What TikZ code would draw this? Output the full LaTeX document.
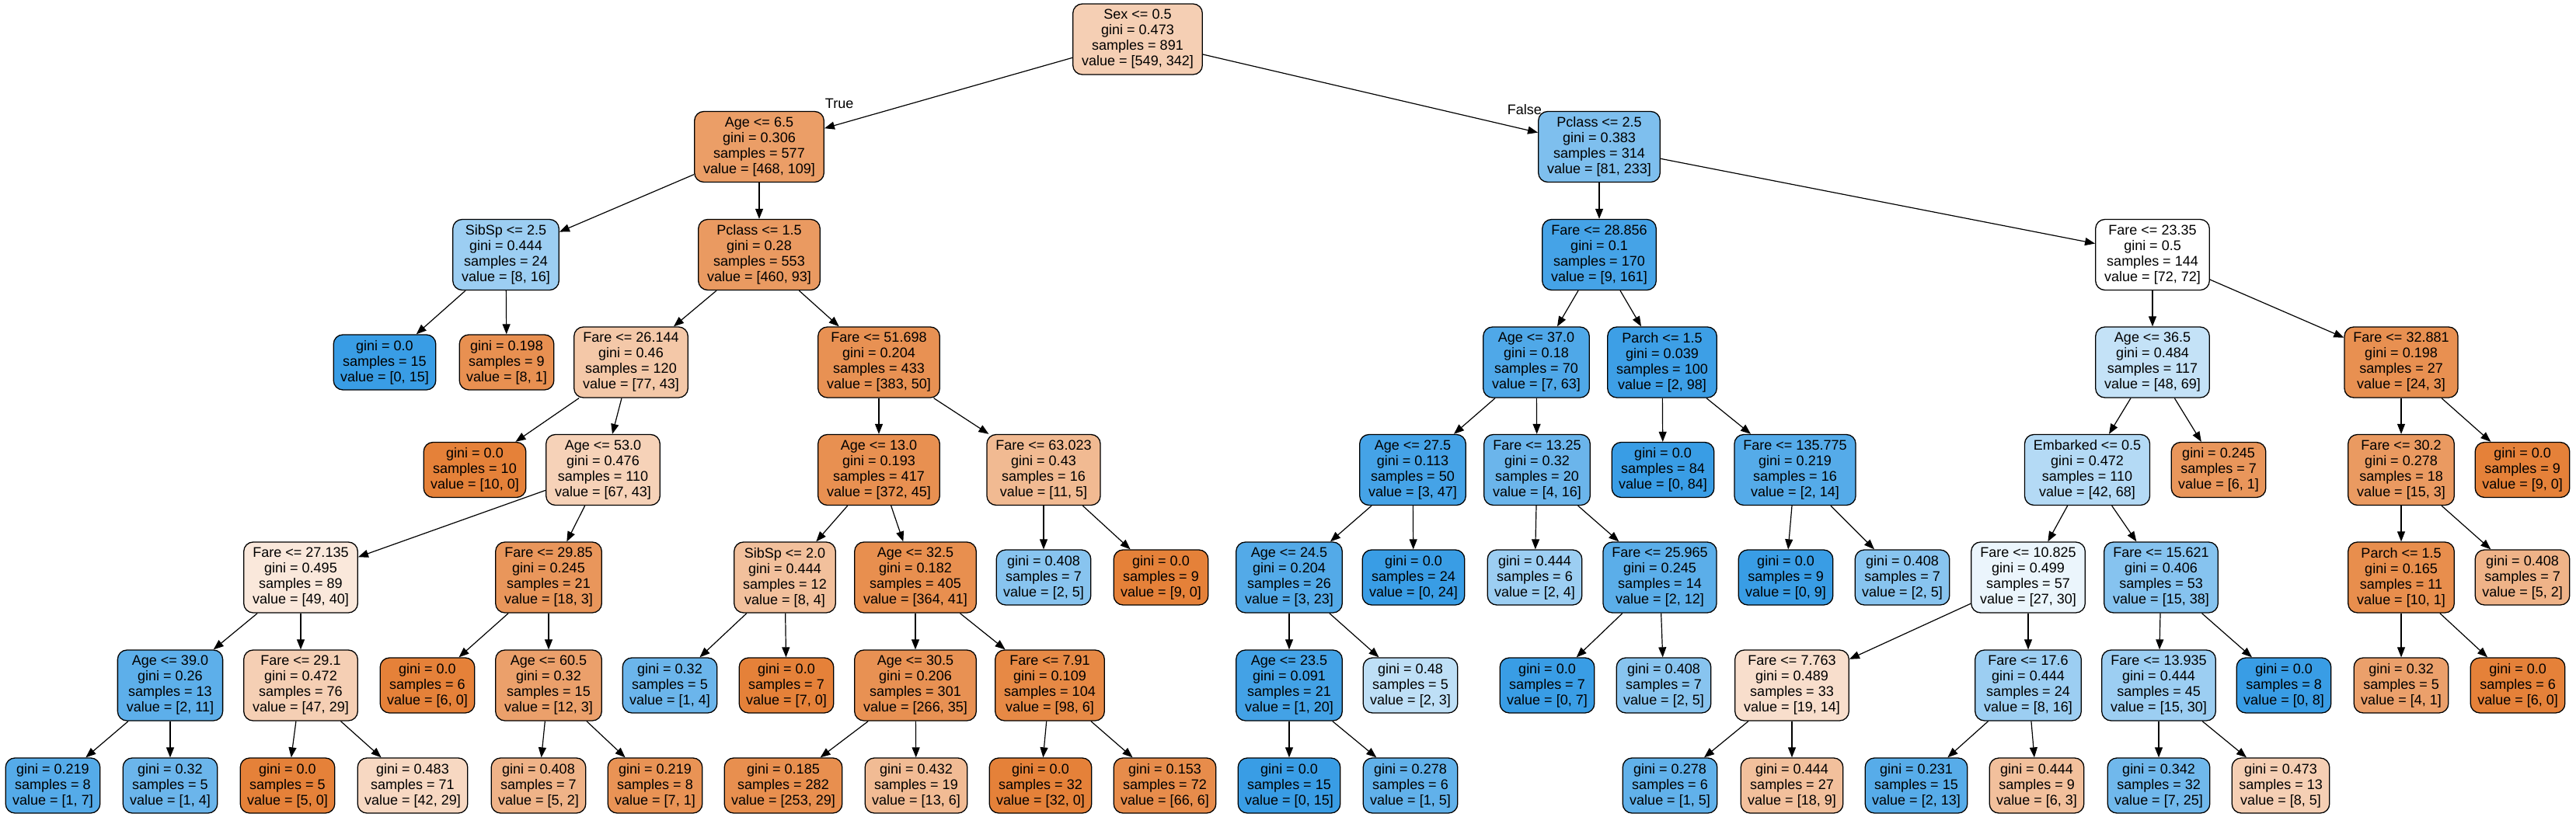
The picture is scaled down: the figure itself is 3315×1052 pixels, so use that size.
\documentclass[tikz,border=0pt]{standalone}
\usepackage{fontspec}
\setmainfont{Liberation Sans}
\usetikzlibrary{arrows.meta}
\definecolor{torange}{HTML}{E58139}
\definecolor{tblue}{HTML}{399DE5}
\tikzset{
  died/.style={fill=torange!#1!white},
  surv/.style={fill=tblue!#1!white}
}
\newcommand{\treesplit}[7]{%
 \node[decision,#3] ({#1}) at ({#2}) {#4\\gini = #5\\samples = #6\\value = [#7]};%
}
\newcommand{\treeleaf}[6]{%
 \node[leafbox,#3] ({#1}) at ({#2}) {gini = #4\\samples = #5\\value = [#6]};%
}
\begin{document}
\begin{tikzpicture}[x=1pt, y=-1pt,
  every node/.style={font=\fontsize{18}{20}\selectfont},
  treebox/.style={draw=black, line width=1.3pt, rounded corners=12pt, align=center, inner ysep=2pt},
  decision/.style={treebox, inner xsep=11.5pt, minimum height=91pt},
  leafbox/.style={treebox, inner xsep=9pt, minimum height=71pt},
  link/.style={line width=1.2pt, -{Triangle[length=13pt,width=10pt]}},
  flag/.style={inner sep=0pt}]
  \useasboundingbox (0,0) rectangle (3315,1052);
  \treesplit{n0}{1464,50.5}{died=38}{Sex <= 0.5}{0.473}{891}{549, 342}
  \treesplit{n1}{977,189}{died=77}{Age <= 6.5}{0.306}{577}{468, 109}
  \treesplit{n2}{651,328}{surv=50}{SibSp <= 2.5}{0.444}{24}{8, 16}
  \treeleaf{n3}{495,466.5}{surv=100}{0.0}{15}{0, 15}
  \treeleaf{n4}{652,466.5}{died=88}{0.198}{9}{8, 1}
  \treesplit{n5}{977,328}{died=80}{Pclass <= 1.5}{0.28}{553}{460, 93}
  \treesplit{n6}{812,466.5}{died=44}{Fare <= 26.144}{0.46}{120}{77, 43}
  \treeleaf{n7}{611,605}{died=100}{0.0}{10}{10, 0}
  \treesplit{n8}{776,605}{died=36}{Age <= 53.0}{0.476}{110}{67, 43}
  \treesplit{n9}{387,743.5}{died=18}{Fare <= 27.135}{0.495}{89}{49, 40}
  \treesplit{n10}{219,882.5}{surv=82}{Age <= 39.0}{0.26}{13}{2, 11}
  \treeleaf{n11}{68,1011.5}{surv=86}{0.219}{8}{1, 7}
  \treeleaf{n12}{219,1011.5}{surv=75}{0.32}{5}{1, 4}
  \treesplit{n13}{387,882.5}{died=38}{Fare <= 29.1}{0.472}{76}{47, 29}
  \treeleaf{n14}{370,1011.5}{died=100}{0.0}{5}{5, 0}
  \treeleaf{n15}{531,1011.5}{died=31}{0.483}{71}{42, 29}
  \treesplit{n16}{706,743.5}{died=83}{Fare <= 29.85}{0.245}{21}{18, 3}
  \treeleaf{n17}{550,882.5}{died=100}{0.0}{6}{6, 0}
  \treesplit{n18}{706,882.5}{died=75}{Age <= 60.5}{0.32}{15}{12, 3}
  \treeleaf{n19}{693,1011.5}{died=60}{0.408}{7}{5, 2}
  \treeleaf{n20}{843,1011.5}{died=86}{0.219}{8}{7, 1}
  \treesplit{n21}{1131,466.5}{died=87}{Fare <= 51.698}{0.204}{433}{383, 50}
  \treesplit{n22}{1131,605}{died=88}{Age <= 13.0}{0.193}{417}{372, 45}
  \treesplit{n23}{1010,743.5}{died=50}{SibSp <= 2.0}{0.444}{12}{8, 4}
  \treeleaf{n24}{862,882.5}{surv=75}{0.32}{5}{1, 4}
  \treeleaf{n25}{1012,882.5}{died=100}{0.0}{7}{7, 0}
  \treesplit{n26}{1178,743.5}{died=89}{Age <= 32.5}{0.182}{405}{364, 41}
  \treesplit{n27}{1178,882.5}{died=87}{Age <= 30.5}{0.206}{301}{266, 35}
  \treeleaf{n28}{1008,1011.5}{died=89}{0.185}{282}{253, 29}
  \treeleaf{n29}{1179,1011.5}{died=54}{0.432}{19}{13, 6}
  \treesplit{n30}{1351,882.5}{died=94}{Fare <= 7.91}{0.109}{104}{98, 6}
  \treeleaf{n31}{1339,1011.5}{died=100}{0.0}{32}{32, 0}
  \treeleaf{n32}{1499,1011.5}{died=91}{0.153}{72}{66, 6}
  \treesplit{n33}{1343,605}{died=55}{Fare <= 63.023}{0.43}{16}{11, 5}
  \treeleaf{n34}{1343,743.5}{surv=60}{0.408}{7}{2, 5}
  \treeleaf{n35}{1494,743.5}{died=100}{0.0}{9}{9, 0}
  \treesplit{n36}{2058,189}{surv=65}{Pclass <= 2.5}{0.383}{314}{81, 233}
  \treesplit{n37}{2058,328}{surv=94}{Fare <= 28.856}{0.1}{170}{9, 161}
  \treesplit{n38}{1977,466.5}{surv=89}{Age <= 37.0}{0.18}{70}{7, 63}
  \treesplit{n39}{1818,605}{surv=94}{Age <= 27.5}{0.113}{50}{3, 47}
  \treesplit{n40}{1659,743.5}{surv=87}{Age <= 24.5}{0.204}{26}{3, 23}
  \treesplit{n41}{1659,882.5}{surv=95}{Age <= 23.5}{0.091}{21}{1, 20}
  \treeleaf{n42}{1659,1011.5}{surv=100}{0.0}{15}{0, 15}
  \treeleaf{n43}{1815,1011.5}{surv=80}{0.278}{6}{1, 5}
  \treeleaf{n44}{1815,882.5}{surv=33}{0.48}{5}{2, 3}
  \treeleaf{n45}{1819,743.5}{surv=100}{0.0}{24}{0, 24}
  \treesplit{n46}{1978,605}{surv=75}{Fare <= 13.25}{0.32}{20}{4, 16}
  \treeleaf{n47}{1975,743.5}{surv=50}{0.444}{6}{2, 4}
  \treesplit{n48}{2136,743.5}{surv=83}{Fare <= 25.965}{0.245}{14}{2, 12}
  \treeleaf{n49}{1991,882.5}{surv=100}{0.0}{7}{0, 7}
  \treeleaf{n50}{2141,882.5}{surv=60}{0.408}{7}{2, 5}
  \treesplit{n51}{2139,466.5}{surv=98}{Parch <= 1.5}{0.039}{100}{2, 98}
  \treeleaf{n52}{2140,605}{surv=100}{0.0}{84}{0, 84}
  \treesplit{n53}{2310,605}{surv=86}{Fare <= 135.775}{0.219}{16}{2, 14}
  \treeleaf{n54}{2298,743.5}{surv=100}{0.0}{9}{0, 9}
  \treeleaf{n55}{2448,743.5}{surv=60}{0.408}{7}{2, 5}
  \treesplit{n56}{2770,328}{died=0}{Fare <= 23.35}{0.5}{144}{72, 72}
  \treesplit{n57}{2770,466.5}{surv=30}{Age <= 36.5}{0.484}{117}{48, 69}
  \treesplit{n58}{2686,605}{surv=38}{Embarked <= 0.5}{0.472}{110}{42, 68}
  \treesplit{n59}{2610,743.5}{surv=10}{Fare <= 10.825}{0.499}{57}{27, 30}
  \treesplit{n60}{2306,882.5}{died=26}{Fare <= 7.763}{0.489}{33}{19, 14}
  \treeleaf{n61}{2149,1011.5}{surv=80}{0.278}{6}{1, 5}
  \treeleaf{n62}{2306,1011.5}{died=50}{0.444}{27}{18, 9}
  \treesplit{n63}{2610,882.5}{surv=50}{Fare <= 17.6}{0.444}{24}{8, 16}
  \treeleaf{n64}{2466,1011.5}{surv=85}{0.231}{15}{2, 13}
  \treeleaf{n65}{2621,1011.5}{died=50}{0.444}{9}{6, 3}
  \treesplit{n66}{2781,743.5}{surv=61}{Fare <= 15.621}{0.406}{53}{15, 38}
  \treesplit{n67}{2778,882.5}{surv=50}{Fare <= 13.935}{0.444}{45}{15, 30}
  \treeleaf{n68}{2778,1011.5}{surv=72}{0.342}{32}{7, 25}
  \treeleaf{n69}{2935,1011.5}{died=38}{0.473}{13}{8, 5}
  \treeleaf{n70}{2939,882.5}{surv=100}{0.0}{8}{0, 8}
  \treeleaf{n71}{2855,605}{died=83}{0.245}{7}{6, 1}
  \treesplit{n72}{3090,466.5}{died=88}{Fare <= 32.881}{0.198}{27}{24, 3}
  \treesplit{n73}{3090,605}{died=80}{Fare <= 30.2}{0.278}{18}{15, 3}
  \treesplit{n74}{3090,743.5}{died=90}{Parch <= 1.5}{0.165}{11}{10, 1}
  \treeleaf{n75}{3090,882.5}{died=75}{0.32}{5}{4, 1}
  \treeleaf{n76}{3240,882.5}{died=100}{0.0}{6}{6, 0}
  \treeleaf{n77}{3246,743.5}{died=60}{0.408}{7}{5, 2}
  \treeleaf{n78}{3246,605}{died=100}{0.0}{9}{9, 0}
  \path[link] (n0) edge node[flag,pos=.94,above=19pt] (ltrue) {True} (n1)
                   edge node[flag,pos=.96,above=18pt] (lfalse) {False} (n36);
  \path[link] (n1) edge (n2) edge (n5);
  \path[link] (n2) edge (n3) edge (n4);
  \path[link] (n5) edge (n6) edge (n21);
  \path[link] (n6) edge (n7) edge (n8);
  \path[link] (n8) edge (n9) edge (n16);
  \path[link] (n9) edge (n10) edge (n13);
  \path[link] (n10) edge (n11) edge (n12);
  \path[link] (n13) edge (n14) edge (n15);
  \path[link] (n16) edge (n17) edge (n18);
  \path[link] (n18) edge (n19) edge (n20);
  \path[link] (n21) edge (n22) edge (n33);
  \path[link] (n22) edge (n23) edge (n26);
  \path[link] (n23) edge (n24) edge (n25);
  \path[link] (n26) edge (n27) edge (n30);
  \path[link] (n27) edge (n28) edge (n29);
  \path[link] (n30) edge (n31) edge (n32);
  \path[link] (n33) edge (n34) edge (n35);
  \path[link] (n36) edge (n37) edge (n56);
  \path[link] (n37) edge (n38) edge (n51);
  \path[link] (n38) edge (n39) edge (n46);
  \path[link] (n39) edge (n40) edge (n45);
  \path[link] (n40) edge (n41) edge (n44);
  \path[link] (n41) edge (n42) edge (n43);
  \path[link] (n46) edge (n47) edge (n48);
  \path[link] (n48) edge (n49) edge (n50);
  \path[link] (n51) edge (n52) edge (n53);
  \path[link] (n53) edge (n54) edge (n55);
  \path[link] (n56) edge (n57) edge (n72);
  \path[link] (n57) edge (n58) edge (n71);
  \path[link] (n58) edge (n59) edge (n66);
  \path[link] (n59) edge (n60) edge (n63);
  \path[link] (n60) edge (n61) edge (n62);
  \path[link] (n63) edge (n64) edge (n65);
  \path[link] (n66) edge (n67) edge (n70);
  \path[link] (n67) edge (n68) edge (n69);
  \path[link] (n72) edge (n73) edge (n78);
  \path[link] (n73) edge (n74) edge (n77);
  \path[link] (n74) edge (n75) edge (n76);
\end{tikzpicture}
\end{document}
